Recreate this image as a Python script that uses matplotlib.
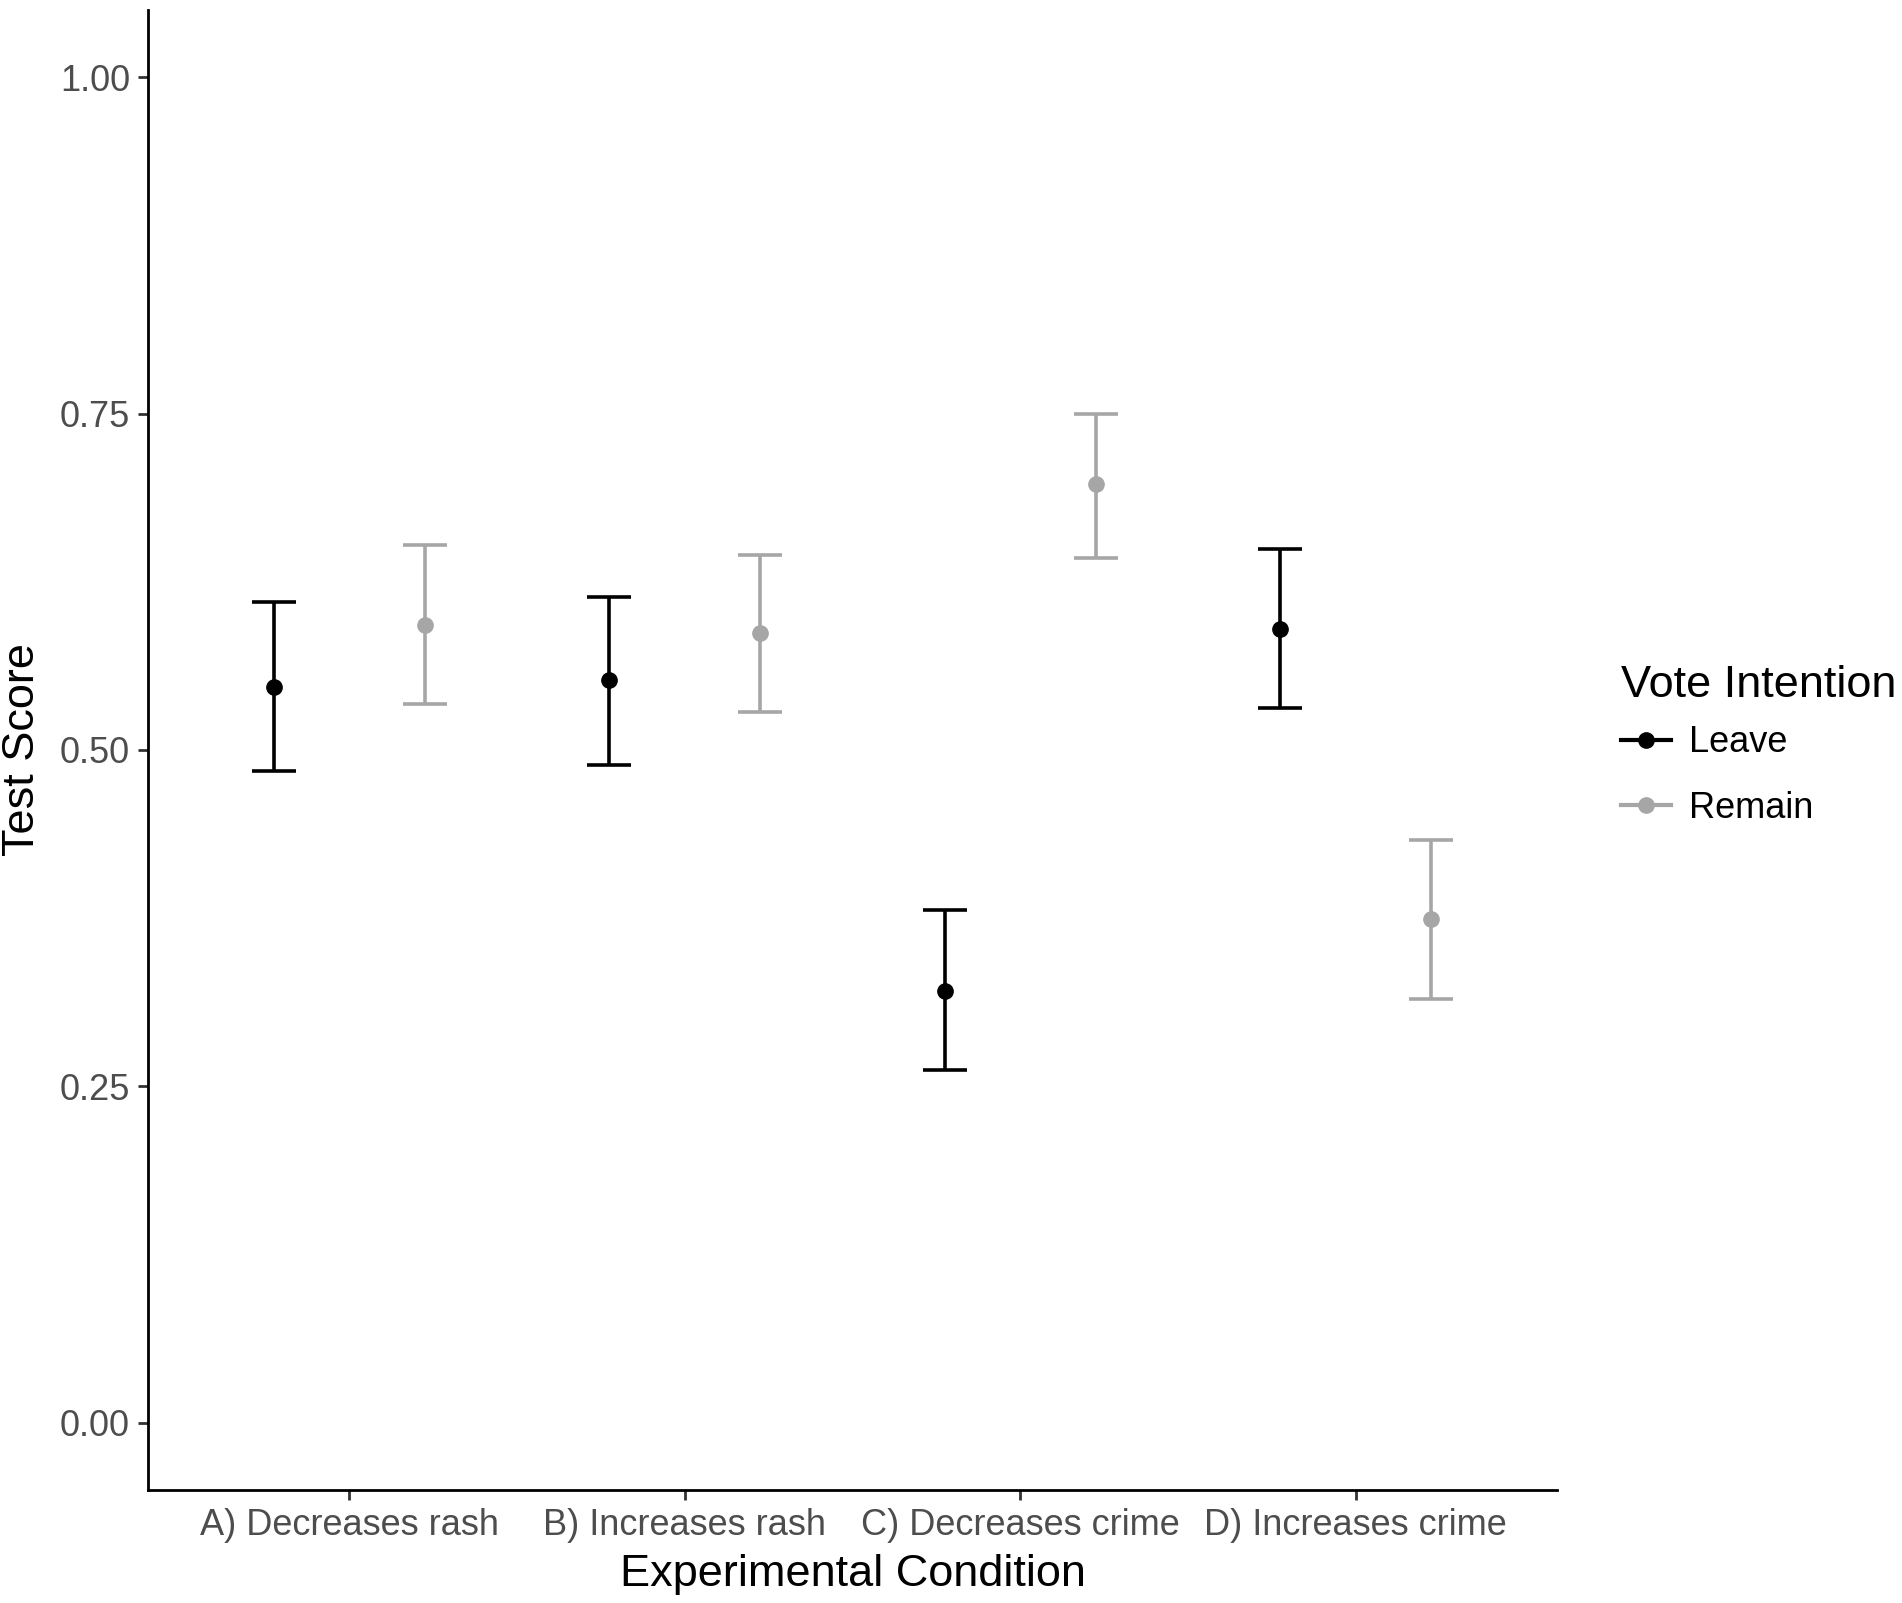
import numpy as np
import matplotlib
matplotlib.use('Agg')
import matplotlib.pyplot as plt
from matplotlib.lines import Line2D

plt.rcParams['font.family'] = ['Liberation Sans', 'DejaVu Sans']

conditions = ['A) Decreases rash', 'B) Increases rash', 'C) Decreases crime', 'D) Increases crime']
groups = ['Leave', 'Remain']
colors = {'Leave': '#000000', 'Remain': '#a6a6a6'}

leaveMean = [0.547, 0.552, 0.321, 0.590]
leaveLow = [0.484, 0.489, 0.262, 0.531]
leaveHigh = [0.610, 0.614, 0.381, 0.649]

remainMean = [0.593, 0.587, 0.698, 0.374]
remainLow = [0.534, 0.528, 0.643, 0.315]
remainHigh = [0.652, 0.645, 0.750, 0.433]


def main():
    fig = plt.figure(figsize=(19.02, 16.03), dpi=100)
    ax = fig.add_axes([0.0778, 0.0705, 0.7408, 0.9233])

    x = np.arange(1, len(conditions) + 1)
    dodge = 0.225
    data = {
        'Leave': (leaveMean, leaveLow, leaveHigh, -dodge),
        'Remain': (remainMean, remainLow, remainHigh, dodge),
    }

    for g in groups:
        mean, low, high, off = data[g]
        mean = np.array(mean)
        yerr = [mean - np.array(low), np.array(high) - mean]
        ax.errorbar(x + off, mean, yerr=yerr, fmt='o', color=colors[g],
                    ecolor=colors[g], elinewidth=2.6, capsize=16, capthick=2.6,
                    markersize=11, zorder=3)

    ax.set_xlim(0.4, 4.6)
    ax.set_ylim(-0.05, 1.05)
    ax.set_xticks(x)
    ax.set_xticklabels(conditions)
    ax.set_yticks([0.0, 0.25, 0.5, 0.75, 1.0])
    ax.set_yticklabels(['0.00', '0.25', '0.50', '0.75', '1.00'])

    for s in ['top', 'right']:
        ax.spines[s].set_visible(False)
    for s in ['left', 'bottom']:
        ax.spines[s].set_linewidth(2.0)
        ax.spines[s].set_color('black')
    ax.tick_params(axis='both', direction='out', length=7, width=2.0,
                   color='#333333', labelsize=26, labelcolor='#4d4d4d', pad=6)

    ax.set_xlabel('Experimental Condition', fontsize=32.5, labelpad=8)
    ax.set_ylabel('Test Score', fontsize=32.5, labelpad=12)

    handles = [Line2D([0], [0], color=colors[g], marker='o', markersize=11,
                      linewidth=3) for g in groups]
    leg = ax.legend(handles, groups, title='Vote Intention', frameon=False,
                    loc='center left', bbox_to_anchor=(1.035, 0.503),
                    fontsize=26, title_fontsize=32.5, handlelength=1.4,
                    handletextpad=0.5, labelspacing=0.85, alignment='left',
                    borderaxespad=0)
    leg._legend_box.sep = 14

    plt.savefig('out.png', dpi=100)
    plt.close()


if __name__ == '__main__':
    main()
